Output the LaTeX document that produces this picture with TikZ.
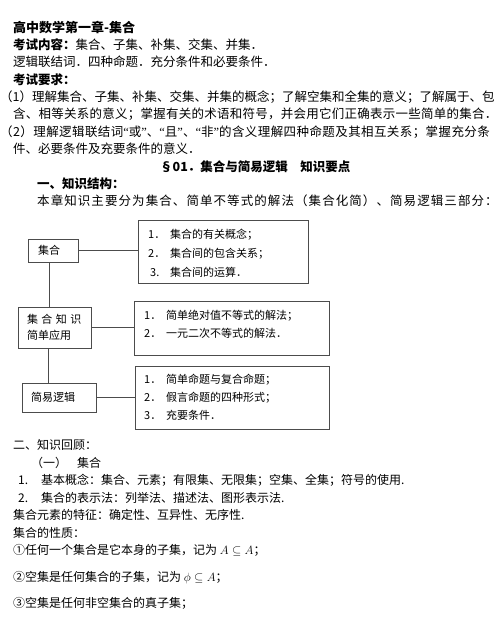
\documentclass[tikz,border=0pt]{standalone}
\usepackage{fontspec}
\setmainfont{Noto Sans CJK SC}
\newfontfamily\lat{Liberation Serif}
\usepackage{tikz}
\definecolor{boxgray}{gray}{0.3}
\newcommand\spaced[1]{\addfontfeature{LetterSpace=#1}}
\tikzset{
    txt/.style = {anchor=west, inner sep=0pt, text height=11pt, text depth=1.5pt, font=\fontsize{12.5}{14}\selectfont},
    txtb/.style = {txt, font=\fontsize{12.5}{14}\selectfont\bfseries},
    txts/.style = {anchor=west, inner sep=0pt, text height=10.6pt, text depth=1.4pt, font=\fontsize{12}{14}\selectfont},
    boxtxt/.style = {anchor=west, inner sep=0pt, text height=9.7pt, text depth=1.3pt, font=\fontsize{11}{13}\selectfont},
    kbox/.style = {draw=boxgray, line width=1pt, inner sep=0pt, align=left, font=\fontsize{11}{16}\selectfont},
    link/.style = {draw=boxgray, line width=1pt},
}
\begin{document}
\begin{tikzpicture}[x=1pt, y=-1pt]
\fill[white] (0,0) rectangle (499,628);
\useasboundingbox (0,0) rectangle (499,628);
% header
\node[txtb, font=\fontsize{13}{14}\selectfont\bfseries] at (13,28) (t0) {高中数学第一章-集合};
\node[txt] at (13,45) (t1) {\textbf{考试内容：}集合、子集、补集、交集、并集．};
\node[txt] at (13,62) (t2) {逻辑联结词．四种命题．充分条件和必要条件．};
\node[txtb] at (13,80) (t3) {考试要求：};
\node[txt] at (0,97) (t4) {（1）理解集合、子集、补集、交集、并集的概念；了解空集和全集的意义；了解属于、包};
\node[txt] at (13,114) (t5) {\spaced{2.0}含、相等关系的意义；掌握有关的术语和符号，并会用它们正确表示一些简单的集合．};
\node[txt] at (0,132) (t6) {\spaced{3.3}（2）理解逻辑联结词{\lat“}或{\lat”}、{\lat“}且{\lat”}、{\lat“}非{\lat”}的含义理解四种命题及其相互关系；掌握充分条};
\node[txt] at (13,149) (t7) {件、必要条件及充要条件的意义．};
\node[txtb] at (160,167) (t8) {§01．集合与简易逻辑\quad 知识要点};
\node[txtb] at (37,184) (t9) {一、知识结构：};
\node[txt] at (37,201) (t10) {\spaced{8.6}本章知识主要分为集合、简单不等式的解法（集合化简）、简易逻辑三部分：};
%
% left column
\node[kbox, text width=55pt, inner xsep=9pt, minimum height=41pt] at (54.5,327.5) (zs) {\mbox{集\hspace{3.5pt}合\hspace{3.5pt}知\hspace{3.5pt}识}\\简单应用};
\node[kbox, text width=30pt, inner xsep=10pt, minimum height=23pt] at (53,250.5) (jh) {集合};
\node[kbox, text width=56pt, inner xsep=9pt, minimum height=29pt] at (59,397.5) (lj) {简易逻辑};
%
% right column
\node[kbox, minimum width=170pt, minimum height=63pt] at (223,251.5) (b1) {};
\node[kbox, minimum width=195pt, minimum height=54pt] at (231.5,328) (b2) {};
\node[kbox, minimum width=194pt, minimum height=63pt] at (232,397.5) (b3) {};
\node[boxtxt] at (148,234) (b1a) {\makebox[22pt][l]{1．}集合的有关概念；};
\node[boxtxt] at (148,253) (b1b) {\makebox[22pt][l]{2．}集合间的包含关系；};
\node[boxtxt] at (150,272) (b1c) {\makebox[20pt][l]{3.}集合间的运算．};
\node[boxtxt] at (144,315) (b2a) {\makebox[22pt][l]{1．}简单绝对值不等式的解法；};
\node[boxtxt] at (144,333) (b2b) {\makebox[22pt][l]{2．}一元二次不等式的解法．};
\node[boxtxt] at (144,379) (b3a) {\makebox[22pt][l]{1．}简单命题与复合命题；};
\node[boxtxt] at (144,397) (b3b) {\makebox[22pt][l]{2．}假言命题的四种形式；};
\node[boxtxt] at (144,415) (b3c) {\makebox[22pt][l]{3．}充要条件．};
%
\draw[link] (jh.east) -- (jh.east -| b1.west);
\draw[link] ([xshift=-4pt]jh.south) -- ([xshift=-4pt]jh.south |- zs.north);
\draw[link] (zs.east) -- (zs.east -| b2.west);
\draw[link] ([xshift=-6pt]zs.south) -- ([xshift=-6pt]zs.south |- lj.north);
\draw[link] (lj.east) -- (lj.east -| b3.west);
%
% review
\node[txts] at (13,445) (r0) {二、知识回顾：};
\node[txts] at (31,462.5) (r1) {（一）\hspace{10pt}集合};
\node[txts] at (18,480) (r2) {\makebox[23pt][l]{1.}基本概念：集合、元素；有限集、无限集；空集、全集；符号的使用.};
\node[txts] at (18,497.5) (r3) {\makebox[23pt][l]{2.}集合的表示法：列举法、描述法、图形表示法.};
\node[txts] at (13,515) (r4) {集合元素的特征：确定性、互异性、无序性.};
\node[txts] at (13,532.5) (r5) {集合的性质：};
\node[txts] at (13,550) (r6) {①任何一个集合是它本身的子集，记为 $A\subseteq A$；};
\node[txts] at (13,577) (r7) {②空集是任何集合的子集，记为 $\phi\subseteq A$；};
\node[txts] at (13,603) (r8) {③空集是任何非空集合的真子集；};
\end{tikzpicture}
\end{document}
